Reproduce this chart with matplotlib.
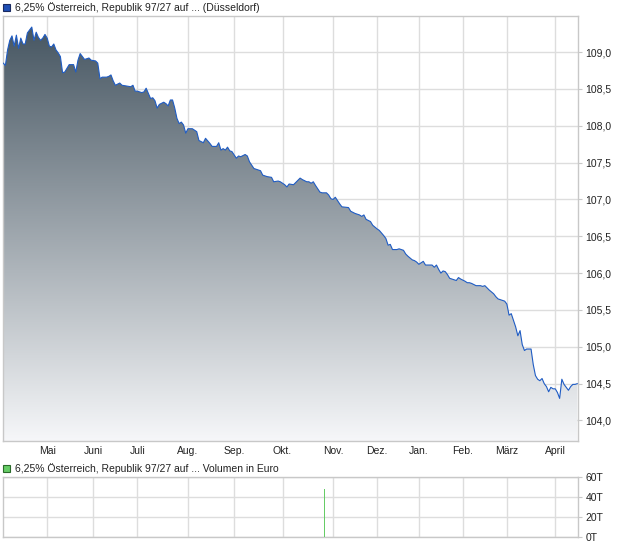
"""6,25% Oesterreich 97/27 price chart (Duesseldorf) with volume panel."""
import matplotlib; matplotlib.use('Agg')  # noqa: E702
import matplotlib.pyplot as plt
import numpy as np
from matplotlib.colors import LinearSegmentedColormap
from matplotlib.patches import Rectangle

plt.rcParams['font.family'] = ['Liberation Sans', 'DejaVu Sans']

# trading-day index and closing price
day = [0, 1, 2, 3, 4, 5, 6, 7, 8, 9, 10, 11, 12, 13, 14, 15, 16, 17, 18, 19,
       20, 21, 22, 23, 24, 25, 26, 27, 28, 29, 30, 32, 33, 34, 35, 36, 37, 39,
       40, 42, 43, 44, 45, 47, 48, 49, 50, 51, 53, 54, 56, 58, 59, 60, 61, 63,
       64, 65, 66, 67, 68, 69, 70, 71, 73, 74, 75, 76, 77, 78, 79, 80, 81, 82,
       83, 84, 86, 88, 89, 91, 92, 94, 95, 97, 98, 99, 100, 101, 102, 103, 104,
       106, 107, 108, 110, 111, 112, 114, 116, 117, 118, 120, 122, 123, 125,
       126, 128, 129, 130, 132, 134, 135, 136, 138, 139, 140, 141, 142, 144,
       145, 147, 148, 149, 150, 151, 153, 154, 157, 158, 160, 162, 163, 164,
       165, 167, 168, 170, 171, 173, 174, 175, 176, 177, 179, 180, 182, 183,
       184, 186, 187, 188, 189, 191, 192, 195, 196, 197, 198, 199, 200, 201,
       202, 203, 204, 206, 207, 208, 210, 211, 212, 213, 215, 217, 218, 219,
       220, 221, 223, 224, 225, 226, 228, 229, 230, 231, 232, 233, 234, 235,
       236, 237, 238, 239, 240, 241, 242, 243, 244, 245, 246, 247, 248, 249,
       250, 251, 252, 253, 254, 255, 256, 257, 258, 259, 260, 261]
price = [108.85, 108.82, 109.03, 109.16, 109.22, 109.08, 109.23, 109.05, 109.19,
         109.11, 109.11, 109.26, 109.30, 109.34, 109.16, 109.27, 109.20, 109.16,
         109.19, 109.24, 109.19, 109.08, 109.07, 109.11, 109.03, 108.99, 108.94,
         108.72, 108.73, 108.78, 108.83, 108.83, 108.73, 108.89, 108.98, 108.94,
         108.90, 108.92, 108.89, 108.88, 108.85, 108.64, 108.66, 108.66, 108.67,
         108.69, 108.61, 108.55, 108.58, 108.55, 108.54, 108.53, 108.55, 108.47,
         108.47, 108.45, 108.46, 108.51, 108.44, 108.37, 108.38, 108.34, 108.24,
         108.29, 108.32, 108.30, 108.27, 108.35, 108.35, 108.24, 108.10, 108.03,
         108.05, 108.01, 107.90, 107.96, 107.96, 107.92, 107.80, 107.77, 107.83,
         107.76, 107.72, 107.72, 107.77, 107.67, 107.69, 107.67, 107.71, 107.66,
         107.65, 107.56, 107.59, 107.58, 107.61, 107.59, 107.51, 107.42, 107.40,
         107.39, 107.33, 107.31, 107.30, 107.24, 107.25, 107.24, 107.20, 107.17,
         107.21, 107.20, 107.26, 107.29, 107.27, 107.24, 107.24, 107.22, 107.24,
         107.19, 107.10, 107.09, 107.09, 107.06, 107.01, 107.00, 107.03, 106.94,
         106.90, 106.89, 106.84, 106.81, 106.79, 106.77, 106.79, 106.73, 106.70,
         106.65, 106.60, 106.58, 106.51, 106.47, 106.38, 106.39, 106.32, 106.32,
         106.33, 106.31, 106.26, 106.23, 106.18, 106.17, 106.15, 106.12, 106.16,
         106.11, 106.11, 106.08, 106.11, 106.05, 106.00, 106.03, 106.02, 105.98,
         105.93, 105.92, 105.90, 105.94, 105.92, 105.89, 105.87, 105.87, 105.86,
         105.83, 105.83, 105.82, 105.83, 105.80, 105.77, 105.72, 105.68, 105.65,
         105.64, 105.62, 105.58, 105.43, 105.45, 105.36, 105.27, 105.15, 105.22,
         105.03, 104.95, 104.97, 104.97, 104.97, 104.76, 104.61, 104.56, 104.54,
         104.57, 104.50, 104.46, 104.39, 104.45, 104.43, 104.43, 104.38, 104.30,
         104.56, 104.49, 104.45, 104.41, 104.46, 104.49, 104.49, 104.50]

# first trading day of each month
month_pos = [20, 41, 61, 84, 105, 127, 150, 170, 189, 209, 229, 251]
month_lbl = ['Mai', 'Juni', 'Juli', 'Aug.', 'Sep.', 'Okt.', 'Nov.', 'Dez.',
             'Jan.', 'Feb.', 'März', 'April']

price_ticks = [104.0, 104.5, 105.0, 105.5, 106.0, 106.5, 107.0, 107.5,
               108.0, 108.5, 109.0]

vol_day = [146]
vol = [48000]
vol_ticks = [0, 20000, 40000, 60000]

TITLE = '6,25% Österreich, Republik 97/27 auf ... (Düsseldorf)'
VOL_TITLE = '6,25% Österreich, Republik 97/27 auf ... Volumen in Euro'
GRID = '#dddddd'
FRAME = '#c8c8c8'
XMIN, XMAX = -0.1, 261.5
YMIN, YMAX = 103.715, 109.49

fig = plt.figure(figsize=(6.2, 5.46), dpi=100)
ax = fig.add_axes([0.0048, 0.1914, 0.928, 0.7793])
axv = fig.add_axes([0.0048, 0.0165, 0.928, 0.1099])

# price panel: gradient fill clipped to the area under the line
cmap = LinearSegmentedColormap.from_list('fill', ['#f6f7f9', '#42525e'])
grad = np.linspace(1, 0, 256).reshape(-1, 1)
im = ax.imshow(grad, cmap=cmap, aspect='auto', origin='upper',
               extent=[XMIN, XMAX, YMIN, YMAX], zorder=1, interpolation='bicubic')
area = ax.fill_between(day, price, YMIN, color='none', lw=0)
im.set_clip_path(area.get_paths()[0], transform=ax.transData)
ax.plot(day, price, color='#1f5cc4', lw=0.8, zorder=3)

ax.set_xlim(XMIN, XMAX)
ax.set_ylim(YMIN, YMAX)
ax.set_xticks(month_pos, month_lbl)
ax.set_yticks(price_ticks, [f'{t:.1f}'.replace('.', ',') for t in price_ticks])

for a in (ax, axv):
    a.set_axisbelow(True)
    a.grid(True, color=GRID, lw=1.0)
    a.yaxis.tick_right()
    a.tick_params(axis='y', length=3, color=FRAME, pad=2, labelsize=7.5,
                  labelcolor='#222222')
    a.tick_params(axis='x', length=0, pad=3, labelsize=7.5, labelcolor='#222222')
    for s in a.spines.values():
        s.set_color(FRAME)
        s.set_linewidth(1.0)

# volume panel
axv.bar(vol_day, vol, width=0.5, color='#66cc66', zorder=3)
axv.set_xlim(XMIN, XMAX)
axv.set_ylim(0, 60000)
axv.set_xticks(month_pos, [''] * len(month_pos))
axv.set_yticks(vol_ticks, [f'{v // 1000}T' for v in vol_ticks])

# legend-style headers
fig.patches.append(Rectangle((3 / 620, 1 - 11 / 546), 7 / 620, 7 / 546,
                             transform=fig.transFigure, facecolor='#1f4fb4',
                             edgecolor='#1a2a60', lw=0.8))
fig.text(15 / 620, 1 - 7.5 / 546, TITLE, fontsize=7.5, va='center', color='#222222')
fig.patches.append(Rectangle((3 / 620, 1 - 472 / 546), 7 / 620, 7 / 546,
                             transform=fig.transFigure, facecolor='#66cc66',
                             edgecolor='#2a6a2a', lw=0.8))
fig.text(15 / 620, 1 - 468.5 / 546, VOL_TITLE, fontsize=7.5, va='center',
         color='#222222')

fig.savefig('out.png', dpi=100)
